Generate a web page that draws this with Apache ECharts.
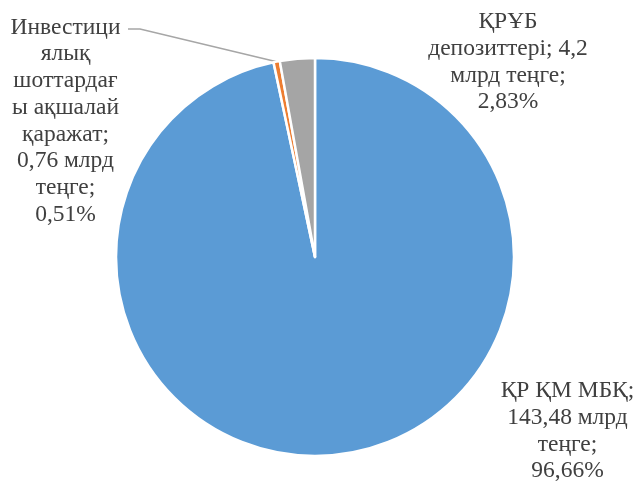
<!DOCTYPE html>
<html><head><meta charset="utf-8">
<script src="https://cdn.jsdelivr.net/npm/echarts@6/dist/echarts.min.js"></script>
<style>html,body{margin:0;padding:0;background:#fff}#c{width:638px;height:483px}</style>
</head><body><div id="c"></div>
<script>
var categories = ['ҚР ҚМ МБҚ', 'Инвестициялық шоттардағы ақшалай қаражат', 'ҚРҰБ депозиттері'];
var values = [143.48, 0.76, 4.2];
var valueLabels = ['143,48', '0,76', '4,2'];
var percentLabels = ['96,66%', '0,51%', '2,83%'];
var labelTexts = [
  'ҚР ҚМ МБҚ;\n143,48 млрд\nтеңге;\n96,66%',
  'Инвестици\nялық\nшоттардағ\nы ақшалай\nқаражат;\n0,76 млрд\nтеңге;\n0,51%',
  'ҚРҰБ\nдепозиттері; 4,2\nмлрд теңге;\n2,83%'
];
var colors = ['#5B9BD5', '#ED7D31', '#A5A5A5'];
var labelPos = [[567.5, 431], [65.5, 121], [508, 62]];

var chart = echarts.init(document.getElementById('c'), null, {renderer: 'canvas'});
chart.setOption({
  animation: false,
  series: [{
    type: 'pie',
    center: [315, 257],
    radius: [0, 199],
    startAngle: 90,
    clockwise: true,
    avoidLabelOverlap: false,
    itemStyle: {borderColor: '#fff', borderWidth: 2.5},
    label: {
      show: true,
      position: 'outside',
      formatter: function (p) { return labelTexts[p.dataIndex]; },
      fontFamily: 'Times New Roman',
      fontSize: 23.5,
      lineHeight: 26.7,
      color: '#404040',
      align: 'center'
    },
    labelLine: {show: false, lineStyle: {color: '#A6A6A6', width: 1.5}},
    labelLayout: function (p) {
      var i = p.dataIndex;
      var r = {x: labelPos[i][0], y: labelPos[i][1], align: 'center', verticalAlign: 'middle'};
      if (i === 1 && p.labelLinePoints) {
        var s = p.labelLinePoints[0];
        r.labelLinePoints = [[s[0], s[1]], [140, 29], [128, 29]];
      }
      return r;
    },
    data: categories.map(function (c, i) {
      return {
        name: c, value: values[i],
        itemStyle: {color: colors[i]},
        labelLine: {show: i === 1, length: 10, length2: 10}
      };
    })
  }]
});
</script></body></html>
